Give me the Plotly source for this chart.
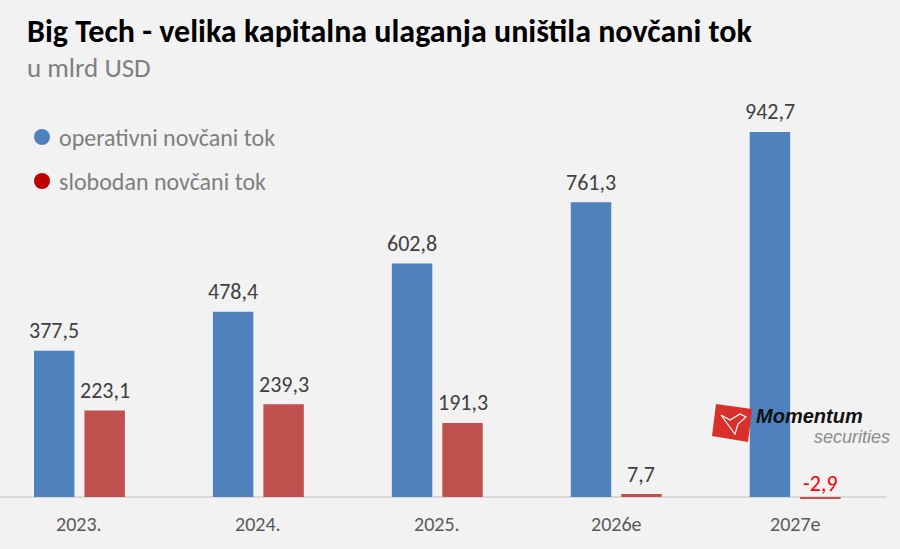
import plotly.graph_objects as go

categories = ["2023.", "2024.", "2025.", "2026e", "2027e"]
operativni = [377.5, 478.4, 602.8, 761.3, 942.7]
slobodan = [223.1, 239.3, 191.3, 7.7, -2.9]
series_names = ["operativni novčani tok", "slobodan novčani tok"]
title_text = "Big Tech - velika kapitalna ulaganja uništila novčani tok"
subtitle_text = "u mlrd USD"

W, H = 900, 549
MT, MB = 100, 40
PLOT_TOP, PLOT_BOTTOM = MT, H - MB
FONT = "Carlito, 'Liberation Sans Narrow', 'Liberation Sans', sans-serif"

BLUE = "#4f81bd"
RED = "#c0504d"
BAR_W = 0.226
OFF_BLUE = -0.254
OFF_RED = 0.028


def px(p):
    return p / W


def py(p):
    return (PLOT_BOTTOM - p) / (PLOT_BOTTOM - PLOT_TOP)


fig = go.Figure()
fig.add_trace(go.Bar(x=list(range(len(categories))), y=operativni, width=BAR_W, offset=OFF_BLUE,
                     marker=dict(color=BLUE, line=dict(width=0)), name=series_names[0],
                     showlegend=False, hoverinfo="skip"))
fig.add_trace(go.Bar(x=list(range(len(categories))), y=slobodan, width=BAR_W, offset=OFF_RED,
                     marker=dict(color=RED, line=dict(width=0)), name=series_names[1],
                     showlegend=False, hoverinfo="skip"))

ann = []
# value labels
for i, (b, r) in enumerate(zip(operativni, slobodan)):
    ann.append(dict(x=i + OFF_BLUE + BAR_W / 2, y=max(b, 0), xref="x", yref="y",
                    text=f"{b:.1f}".replace(".", ","), showarrow=False, yanchor="middle",
                    yshift=20, font=dict(family=FONT, size=22, color="#404040")))
    ann.append(dict(x=i + OFF_RED + BAR_W / 2, y=max(r, 0), xref="x", yref="y",
                    text=f"{r:.1f}".replace(".", ","), showarrow=False, yanchor="middle",
                    yshift=20 if r >= 0 else 14,
                    font=dict(family=FONT, size=22, color="#404040" if r >= 0 else "#ff0000")))
# category labels
for i, c in enumerate(categories):
    ann.append(dict(x=i, y=py(524), xref="x", yref="paper", text=c, showarrow=False,
                    yanchor="middle", font=dict(family=FONT, size=20, color="#595959")))
# title / subtitle
ann.append(dict(x=px(25), y=py(31), xref="paper", yref="paper", text=f"<b>{title_text}</b>",
                showarrow=False, xanchor="left", yanchor="middle",
                font=dict(family=FONT, size=32, color="#000000")))
ann.append(dict(x=px(25), y=py(67), xref="paper", yref="paper", text=subtitle_text,
                showarrow=False, xanchor="left", yanchor="middle",
                font=dict(family=FONT, size=27, color="#808080")))
# legend texts
ann.append(dict(x=px(57), y=py(137), xref="paper", yref="paper", text=series_names[0],
                showarrow=False, xanchor="left", yanchor="middle",
                font=dict(family=FONT, size=24, color="#7f7f7f")))
ann.append(dict(x=px(57), y=py(181), xref="paper", yref="paper", text=series_names[1],
                showarrow=False, xanchor="left", yanchor="middle",
                font=dict(family=FONT, size=24, color="#7f7f7f")))
# logo text
ann.append(dict(x=px(754), y=py(416), xref="paper", yref="paper", text="<b><i>Momentum</i></b>",
                showarrow=False, xanchor="left", yanchor="middle",
                font=dict(family="'Liberation Sans', sans-serif", size=20, color="#111111")))
ann.append(dict(x=px(892), y=py(437), xref="paper", yref="paper", text="<i>securities</i>",
                showarrow=False, xanchor="right", yanchor="middle",
                font=dict(family="'Liberation Sans', sans-serif", size=18, color="#8c8c8c")))

shapes = [
    dict(type="line", xref="paper", yref="y", x0=0, x1=px(887), y0=0, y1=0,
         line=dict(color="#d9d9d9", width=2), layer="below"),
    dict(type="circle", xref="paper", yref="paper", x0=px(34), x1=px(50), y0=py(145), y1=py(129),
         fillcolor=BLUE, line=dict(width=0)),
    dict(type="circle", xref="paper", yref="paper", x0=px(34), x1=px(50), y0=py(189), y1=py(173),
         fillcolor="#c00000", line=dict(width=0)),
    dict(type="path", xref="paper", yref="paper",
         path=f"M {px(716)} {py(404)} L {px(752)} {py(409)} L {px(748)} {py(442)} L {px(712)} {py(436)} Z",
         fillcolor="#d9302c", line=dict(width=0)),
    dict(type="path", xref="paper", yref="paper",
         path=f"M {px(721)} {py(415)} L {px(730)} {py(420)} L {px(740)} {py(414)} L {px(746)} {py(417)} "
              f"L {px(738)} {py(424)} L {px(735)} {py(434)} L {px(729)} {py(426)} Z",
         fillcolor="rgba(255,255,255,0)", line=dict(color="#ffffff", width=1.2)),
]

fig.update_layout(
    width=W, height=H,
    margin=dict(l=0, r=0, t=MT, b=MB),
    paper_bgcolor="#f2f2f2", plot_bgcolor="#f2f2f2",
    barmode="overlay",
    xaxis=dict(range=[-0.444, 4.586], visible=False, fixedrange=True),
    yaxis=dict(range=[-31, 1025.3], visible=False, fixedrange=True),
    annotations=ann, shapes=shapes, showlegend=False,
)
fig.write_html("out.html")
